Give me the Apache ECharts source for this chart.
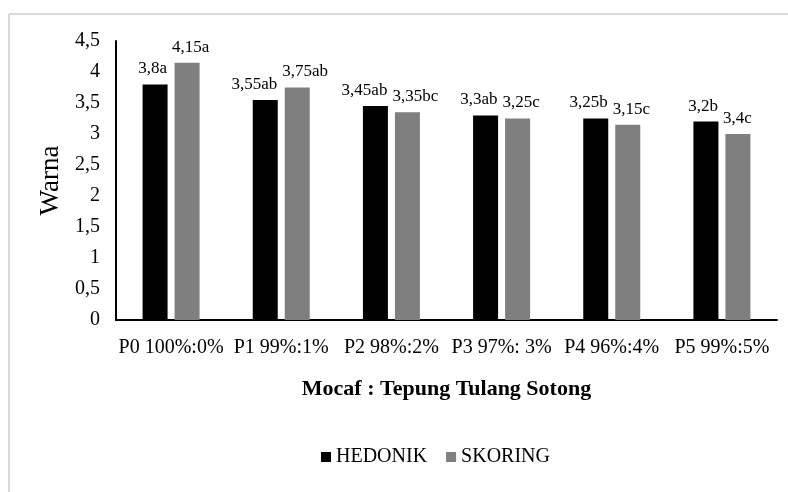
<!DOCTYPE html>
<html>
<head>
<meta charset="utf-8">
<script src="https://cdn.jsdelivr.net/npm/echarts@6/dist/echarts.min.js"></script>
<style>
html,body{margin:0;padding:0;background:#fff;}
#chart{width:788px;height:492px;}
</style>
</head>
<body>
<div id="chart"></div>
<script>
var categories = ["P0 100%:0%", "P1 99%:1%", "P2 98%:2%", "P3 97%: 3%", "P4 96%:4%", "P5 99%:5%"];
var hedonik = [3.8, 3.55, 3.45, 3.3, 3.25, 3.2];
var skoring = [4.15, 3.75, 3.35, 3.25, 3.15, 3.0];
var hedonikLabels = ["3,8a", "3,55ab", "3,45ab", "3,3ab", "3,25b", "3,2b"];
var skoringLabels = ["4,15a", "3,75ab", "3,35bc", "3,25c", "3,15c", "3,4c"];
var seriesNames = ["HEDONIK", "SKORING"];
var yTicks = [0, 0.5, 1, 1.5, 2, 2.5, 3, 3.5, 4, 4.5];

var FONT = "'Liberation Serif', 'Times New Roman', serif";
var chart = echarts.init(document.getElementById('chart'));

function mk(name, vals, labels, color, align, dx) {
  return {
    name: name,
    type: 'bar',
    data: vals,
    barWidth: 25,
    barGap: '28%',
    itemStyle: { color: color },
    label: {
      show: true,
      position: 'top',
      distance: 7,
      align: align,
      offset: [dx, 0],
      color: '#000',
      fontFamily: FONT,
      fontSize: 17,
      formatter: function (p) { return labels[p.dataIndex]; }
    }
  };
}

chart.setOption({
  backgroundColor: '#fff',
  animation: false,
  graphic: [
    { type: 'line', shape: { x1: 9, y1: 14, x2: 788, y2: 14 }, style: { stroke: '#d9d9d9', lineWidth: 2 } },
    { type: 'line', shape: { x1: 9, y1: 14, x2: 9, y2: 492 }, style: { stroke: '#d9d9d9', lineWidth: 2 } }
  ],
  grid: { left: 116, right: 11, top: 41, bottom: 172 },
  legend: {
    data: seriesNames,
    left: 316,
    top: 442,
    icon: 'rect',
    itemWidth: 10,
    itemHeight: 10,
    itemGap: 19,
    textStyle: { fontFamily: FONT, fontSize: 20, color: '#000' }
  },
  xAxis: {
    type: 'category',
    data: categories,
    name: 'Mocaf : Tepung Tulang Sotong',
    nameLocation: 'middle',
    nameGap: 58,
    nameTextStyle: { fontFamily: FONT, fontSize: 22, fontWeight: 'bold', color: '#000' },
    axisLine: { lineStyle: { color: '#000', width: 2 } },
    axisTick: { show: false },
    axisLabel: { interval: 0, fontFamily: FONT, fontSize: 20, color: '#000', margin: 18 }
  },
  yAxis: {
    type: 'value',
    min: 0,
    max: 4.5,
    interval: 0.5,
    name: 'Warna',
    nameLocation: 'middle',
    nameGap: 48,
    nameTextStyle: { fontFamily: FONT, fontSize: 27, color: '#000' },
    axisLine: { show: true, lineStyle: { color: '#000', width: 2 } },
    axisTick: { show: false },
    splitLine: { show: false },
    axisLabel: {
      fontFamily: FONT, fontSize: 20, color: '#000', margin: 16,
      formatter: function (v) { return yTicks.indexOf(v) >= 0 ? String(v).replace('.', ',') : ''; }
    }
  },
  series: [
    mk(seriesNames[0], hedonik, hedonikLabels, '#000000', 'right', 12),
    mk(seriesNames[1], skoring, skoringLabels, '#7f7f7f', 'left', -15)
  ]
});
</script>
</body>
</html>
